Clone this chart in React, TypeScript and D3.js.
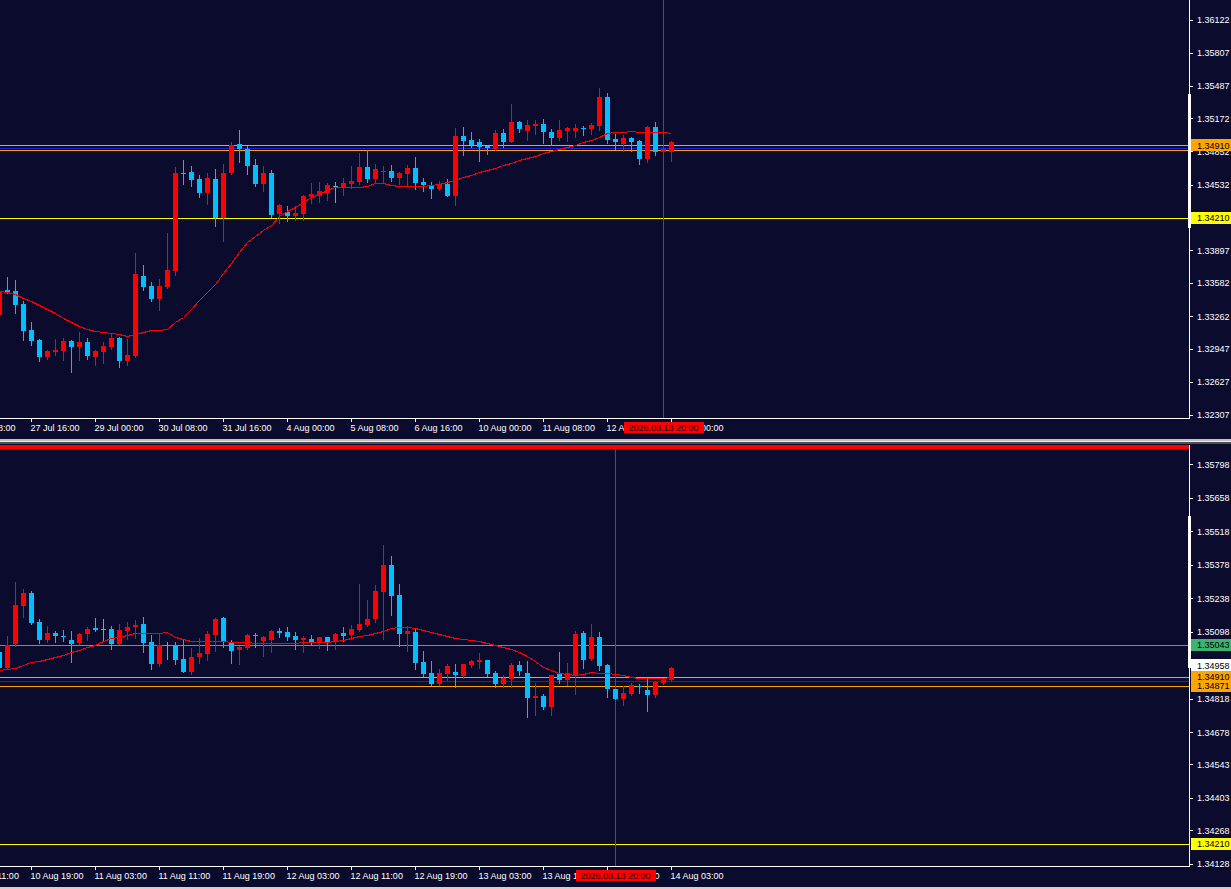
import * as d3 from "d3";

// H4 panel (top) – OHLC
const topOpen = [1.33273, 1.33514, 1.33505, 1.33379, 1.33128, 1.33031, 1.32867, 1.32915, 1.32925, 1.33022, 1.32964, 1.33012, 1.32867, 1.32915, 1.32964, 1.33051, 1.32829, 1.32877, 1.33649, 1.33553, 1.33427, 1.33543, 1.33698, 1.34644, 1.34654, 1.34586, 1.34451, 1.34586, 1.34210, 1.34644, 1.34924, 1.34876, 1.34721, 1.34538, 1.34644, 1.34248, 1.34268, 1.34229, 1.34248, 1.34412, 1.34422, 1.34451, 1.34519, 1.34509, 1.34538, 1.34557, 1.34702, 1.34586, 1.34654, 1.34663, 1.34596, 1.34634, 1.34692, 1.34557, 1.34519, 1.34490, 1.34538, 1.34422, 1.35002, 1.34963, 1.34944, 1.34905, 1.34876, 1.35031, 1.34944, 1.35137, 1.35050, 1.35098, 1.35117, 1.35040, 1.34982, 1.35050, 1.35050, 1.35079, 1.35069, 1.35098, 1.35378, 1.34973, 1.34924, 1.34982, 1.34953, 1.34779, 1.35088, 1.34847, 1.34847];
const topHigh = [1.33591, 1.33640, 1.33611, 1.33408, 1.33205, 1.33041, 1.32935, 1.33041, 1.33051, 1.33031, 1.33109, 1.33051, 1.32935, 1.33012, 1.33099, 1.33060, 1.33041, 1.33872, 1.33756, 1.33591, 1.33620, 1.34065, 1.34702, 1.34770, 1.34712, 1.34625, 1.34644, 1.34683, 1.34731, 1.34944, 1.35060, 1.34905, 1.34779, 1.34712, 1.34673, 1.34345, 1.34326, 1.34326, 1.34432, 1.34548, 1.34557, 1.34548, 1.34557, 1.34596, 1.34712, 1.34837, 1.34866, 1.34731, 1.34712, 1.34721, 1.34654, 1.34721, 1.34799, 1.34596, 1.34557, 1.34567, 1.34586, 1.35079, 1.35088, 1.35040, 1.34973, 1.34915, 1.35060, 1.35069, 1.35311, 1.35146, 1.35156, 1.35156, 1.35166, 1.35069, 1.35156, 1.35088, 1.35117, 1.35098, 1.35127, 1.35465, 1.35417, 1.35021, 1.35011, 1.34992, 1.34963, 1.35098, 1.35137, 1.34886, 1.34953];
const topLow = [1.33244, 1.33490, 1.33292, 1.33031, 1.32983, 1.32829, 1.32848, 1.32887, 1.32838, 1.32722, 1.32838, 1.32848, 1.32790, 1.32809, 1.32945, 1.32771, 1.32790, 1.32867, 1.33514, 1.33408, 1.33321, 1.33533, 1.33659, 1.34538, 1.34519, 1.34412, 1.34345, 1.34133, 1.33988, 1.34634, 1.34750, 1.34634, 1.34519, 1.34470, 1.34219, 1.34162, 1.34181, 1.34191, 1.34191, 1.34355, 1.34364, 1.34383, 1.34364, 1.34432, 1.34499, 1.34538, 1.34557, 1.34548, 1.34548, 1.34567, 1.34538, 1.34519, 1.34490, 1.34470, 1.34403, 1.34480, 1.34422, 1.34335, 1.34818, 1.34895, 1.34760, 1.34828, 1.34870, 1.34895, 1.34940, 1.35040, 1.34963, 1.35021, 1.34934, 1.34915, 1.34963, 1.34953, 1.34992, 1.35011, 1.35021, 1.35060, 1.34934, 1.34876, 1.34857, 1.34857, 1.34731, 1.34750, 1.34818, 1.34837, 1.34760];
const topClose = [1.33505, 1.33495, 1.33369, 1.33118, 1.33022, 1.32867, 1.32925, 1.32935, 1.33022, 1.32964, 1.33012, 1.32877, 1.32925, 1.32974, 1.33051, 1.32829, 1.32887, 1.33669, 1.33543, 1.33427, 1.33553, 1.33707, 1.34644, 1.34640, 1.34577, 1.34451, 1.34596, 1.34210, 1.34644, 1.34915, 1.34876, 1.34712, 1.34538, 1.34644, 1.34239, 1.34335, 1.34229, 1.34258, 1.34422, 1.34441, 1.34470, 1.34528, 1.34519, 1.34548, 1.34567, 1.34702, 1.34586, 1.34683, 1.34663, 1.34596, 1.34644, 1.34692, 1.34548, 1.34528, 1.34490, 1.34538, 1.34422, 1.35002, 1.34953, 1.34915, 1.34895, 1.34886, 1.35031, 1.34944, 1.35137, 1.35069, 1.35108, 1.35117, 1.35040, 1.34982, 1.35060, 1.35079, 1.35079, 1.35075, 1.35108, 1.35378, 1.34963, 1.34944, 1.34982, 1.34944, 1.34779, 1.35088, 1.34847, 1.34876, 1.34944];
const topMA = [1.33505, 1.33495, 1.33476, 1.33437, 1.33408, 1.33369, 1.33331, 1.33292, 1.33244, 1.33205, 1.33166, 1.33138, 1.33118, 1.33109, 1.33099, 1.33089, 1.33070, 1.33089, 1.33109, 1.33128, 1.33128, 1.33138, 1.33205, 1.33253, 1.33331, 1.33418, 1.33495, 1.33572, 1.33678, 1.33775, 1.33881, 1.33978, 1.34036, 1.34094, 1.34142, 1.34229, 1.34277, 1.34316, 1.34364, 1.34412, 1.34441, 1.34480, 1.34509, 1.34509, 1.34509, 1.34509, 1.34519, 1.34548, 1.34548, 1.34528, 1.34519, 1.34519, 1.34519, 1.34519, 1.34528, 1.34538, 1.34557, 1.34577, 1.34606, 1.34625, 1.34654, 1.34673, 1.34692, 1.34721, 1.34741, 1.34770, 1.34789, 1.34808, 1.34837, 1.34857, 1.34876, 1.34895, 1.34915, 1.34944, 1.34963, 1.34992, 1.35031, 1.35040, 1.35040, 1.35050, 1.35040, 1.35040, 1.35040, 1.35040, 1.35031];
const topTicks = [1.36122, 1.35807, 1.35487, 1.35172, 1.34852, 1.34532, 1.33897, 1.33582, 1.33262, 1.32947, 1.32627, 1.32307];
const topTimes = ["24 Jul 08:00", "27 Jul 16:00", "29 Jul 00:00", "30 Jul 08:00", "31 Jul 16:00", "4 Aug 00:00", "5 Aug 08:00", "6 Aug 16:00", "10 Aug 00:00", "11 Aug 08:00", "12 Aug 16:00", "14 Aug 00:00"];

// H1 panel (bottom)
const botOpen = [1.35012, 1.34945, 1.35046, 1.35205, 1.35259, 1.35138, 1.35063, 1.35092, 1.35080, 1.35063, 1.35050, 1.35088, 1.35113, 1.35109, 1.35109, 1.35046, 1.35100, 1.35117, 1.35130, 1.35054, 1.34962, 1.35042, 1.35042, 1.34983, 1.34929, 1.34991, 1.35004, 1.35084, 1.35155, 1.35054, 1.35021, 1.35029, 1.35084, 1.35059, 1.35063, 1.35100, 1.35096, 1.35080, 1.35063, 1.35067, 1.35054, 1.35075, 1.35054, 1.35092, 1.35084, 1.35105, 1.35125, 1.35151, 1.35263, 1.35376, 1.35251, 1.35088, 1.35096, 1.34970, 1.34924, 1.34878, 1.34920, 1.34929, 1.34912, 1.34958, 1.34970, 1.34979, 1.34924, 1.34878, 1.34899, 1.34958, 1.34924, 1.34820, 1.34828, 1.34782, 1.34920, 1.34895, 1.34916, 1.35092, 1.34983, 1.35075, 1.34958, 1.34857, 1.34816, 1.34836, 1.34870, 1.34853, 1.34832, 1.34882, 1.34895];
const botHigh = [1.35029, 1.35080, 1.35305, 1.35276, 1.35268, 1.35151, 1.35121, 1.35100, 1.35105, 1.35100, 1.35092, 1.35117, 1.35155, 1.35151, 1.35121, 1.35130, 1.35138, 1.35146, 1.35159, 1.35084, 1.35088, 1.35054, 1.35054, 1.35063, 1.35029, 1.35071, 1.35100, 1.35153, 1.35157, 1.35063, 1.35038, 1.35086, 1.35092, 1.35080, 1.35105, 1.35113, 1.35117, 1.35096, 1.35080, 1.35084, 1.35077, 1.35077, 1.35090, 1.35117, 1.35125, 1.35297, 1.35230, 1.35293, 1.35460, 1.35414, 1.35297, 1.35121, 1.35109, 1.35017, 1.34975, 1.34941, 1.34962, 1.34962, 1.34964, 1.34979, 1.35008, 1.34981, 1.34933, 1.34916, 1.34966, 1.34975, 1.34975, 1.34882, 1.34836, 1.34918, 1.35012, 1.34966, 1.35100, 1.35100, 1.35130, 1.35096, 1.34962, 1.34857, 1.34870, 1.34882, 1.34878, 1.34903, 1.34891, 1.34899, 1.34949];
const botLow = [1.34937, 1.34941, 1.35038, 1.35159, 1.35130, 1.35050, 1.35054, 1.35054, 1.35059, 1.34970, 1.35046, 1.35063, 1.35100, 1.35059, 1.35025, 1.35044, 1.35067, 1.35071, 1.35012, 1.34941, 1.34954, 1.34983, 1.34962, 1.34927, 1.34920, 1.34966, 1.34979, 1.35017, 1.35033, 1.34966, 1.34962, 1.35025, 1.35033, 1.34996, 1.35012, 1.35075, 1.35063, 1.35025, 1.35012, 1.35046, 1.35029, 1.35021, 1.35025, 1.35059, 1.35067, 1.35100, 1.35121, 1.35138, 1.35067, 1.35167, 1.35038, 1.35017, 1.34941, 1.34912, 1.34876, 1.34874, 1.34895, 1.34866, 1.34903, 1.34949, 1.34945, 1.34912, 1.34866, 1.34866, 1.34866, 1.34916, 1.34740, 1.34749, 1.34774, 1.34749, 1.34882, 1.34874, 1.34836, 1.34945, 1.34979, 1.34937, 1.34824, 1.34816, 1.34791, 1.34832, 1.34841, 1.34765, 1.34824, 1.34878, 1.34893];
const botClose = [1.34945, 1.35042, 1.35209, 1.35259, 1.35134, 1.35063, 1.35092, 1.35080, 1.35078, 1.35046, 1.35088, 1.35109, 1.35105, 1.35109, 1.35046, 1.35105, 1.35117, 1.35125, 1.35050, 1.34962, 1.35042, 1.35042, 1.34979, 1.34929, 1.34991, 1.35008, 1.35088, 1.35151, 1.35054, 1.35017, 1.35033, 1.35084, 1.35082, 1.35075, 1.35100, 1.35092, 1.35075, 1.35063, 1.35071, 1.35054, 1.35075, 1.35054, 1.35088, 1.35080, 1.35109, 1.35130, 1.35151, 1.35268, 1.35376, 1.35247, 1.35088, 1.35100, 1.34966, 1.34920, 1.34878, 1.34924, 1.34954, 1.34916, 1.34962, 1.34975, 1.34979, 1.34920, 1.34878, 1.34903, 1.34958, 1.34933, 1.34820, 1.34828, 1.34782, 1.34916, 1.34895, 1.34924, 1.35088, 1.34979, 1.35075, 1.34954, 1.34857, 1.34816, 1.34841, 1.34874, 1.34866, 1.34832, 1.34887, 1.34895, 1.34945];
const botMA = [1.34937, 1.34941, 1.34945, 1.34958, 1.34970, 1.34975, 1.34983, 1.34991, 1.35000, 1.35012, 1.35021, 1.35033, 1.35042, 1.35059, 1.35071, 1.35075, 1.35084, 1.35092, 1.35092, 1.35092, 1.35092, 1.35096, 1.35075, 1.35067, 1.35059, 1.35059, 1.35059, 1.35059, 1.35059, 1.35054, 1.35054, 1.35054, 1.35050, 1.35050, 1.35050, 1.35050, 1.35050, 1.35050, 1.35054, 1.35054, 1.35054, 1.35054, 1.35059, 1.35063, 1.35071, 1.35080, 1.35084, 1.35092, 1.35100, 1.35113, 1.35117, 1.35117, 1.35113, 1.35105, 1.35096, 1.35088, 1.35080, 1.35071, 1.35067, 1.35063, 1.35059, 1.35050, 1.35042, 1.35033, 1.35025, 1.35012, 1.34996, 1.34975, 1.34949, 1.34937, 1.34924, 1.34920, 1.34916, 1.34920, 1.34929, 1.34924, 1.34924, 1.34920, 1.34916, 1.34908, 1.34903, 1.34903, 1.34903, 1.34903, 1.34908];
const botTicks = [1.35798, 1.35658, 1.35518, 1.35378, 1.35238, 1.35098, 1.34818, 1.34678, 1.34543, 1.34403, 1.34268, 1.34128];
const botTimes = ["10 Aug 11:00", "10 Aug 19:00", "11 Aug 03:00", "11 Aug 11:00", "11 Aug 19:00", "12 Aug 03:00", "12 Aug 11:00", "12 Aug 19:00", "13 Aug 03:00", "13 Aug 11:00", "13 Aug 19:00", "14 Aug 03:00"];

const crossLabel = "2026.08.13 20:00";

const BG = "#0b0b2d";
const BULL = "#ff0000";
const BEAR = "#00bfff";
const DOJI = "#3cd07a";
const ORANGE = "#ffa500";
const YELLOW = "#ffff00";
const GREEN = "#3cb371";
const BLUE = "#1e1ee6";
const FONT = "Tahoma, 'Liberation Sans', Arial, sans-serif";
const AXIS_X = 1189;

const W = 1231;
const H = 889;

const x = d3.scaleLinear().domain([0, 84]).range([-1, 671]);

type Panel = {
  id: string;
  top: number;
  bottom: number;
  y: d3.ScaleLinear<number, number>;
  open: number[];
  high: number[];
  low: number[];
  close: number[];
  ma: number[];
  ticks: number[];
  times: string[];
  lines: { v: number; color: string }[];
  labels: { v: number; bg: string }[];
  bar: [number, number];
  crossIdx: number;
};

const panels: Panel[] = [
  {
    id: "top",
    top: 0,
    bottom: 418,
    y: d3.scaleLinear().domain([1.32278, 1.36315]).range([418, 0]),
    open: topOpen,
    high: topHigh,
    low: topLow,
    close: topClose,
    ma: topMA,
    ticks: topTicks,
    times: topTimes,
    lines: [
      { v: 1.3421, color: YELLOW },
      { v: 1.3491, color: ORANGE },
      { v: 1.3489, color: BLUE },
      { v: 1.34871, color: ORANGE },
    ],
    labels: [
      { v: 1.3491, bg: ORANGE },
      { v: 1.3421, bg: YELLOW },
    ],
    bar: [1.35407, 1.34113],
    crossIdx: 83,
  },
  {
    id: "bot",
    top: 449,
    bottom: 866,
    y: d3.scaleLinear().domain([1.34118, 1.35861]).range([866, 449]),
    open: botOpen,
    high: botHigh,
    low: botLow,
    close: botClose,
    ma: botMA,
    ticks: botTicks,
    times: botTimes,
    lines: [
      { v: 1.35043, color: GREEN },
      { v: 1.3491, color: ORANGE },
      { v: 1.34893, color: BLUE },
      { v: 1.34871, color: ORANGE },
      { v: 1.3421, color: YELLOW },
    ],
    labels: [
      { v: 1.35043, bg: GREEN },
      { v: 1.34958, bg: "#ffffff" },
      { v: 1.3491, bg: ORANGE },
      { v: 1.34871, bg: ORANGE },
      { v: 1.3421, bg: YELLOW },
    ],
    bar: [1.35581, 1.34945],
    crossIdx: 77,
  },
];

function ChartPanel({ p }: { p: Panel }) {
  const { y } = p;
  const line = d3
    .line<number>()
    .x((_, i) => x(i) + 0.5)
    .y((v) => Math.round(y(v)) + 0.5);
  const crossX = Math.round(x(p.crossIdx)) + 0.5;
  const tickIdx = p.times.map((_, k) => -4 + 8 * k);

  return (
    <g>
      <defs>
        <clipPath id={`clip-${p.id}`}>
          <rect x={0} y={p.top} width={AXIS_X} height={p.bottom - p.top} />
        </clipPath>
      </defs>
      <g clipPath={`url(#clip-${p.id})`} shapeRendering="crispEdges">
        {p.lines.map((l, i) => (
          <line
            key={i}
            x1={0}
            x2={AXIS_X}
            y1={Math.round(y(l.v)) + 0.5}
            y2={Math.round(y(l.v)) + 0.5}
            stroke={l.color}
            strokeWidth={1}
          />
        ))}
        <line x1={crossX} x2={crossX} y1={p.top} y2={p.bottom} stroke="#c81e1e" strokeWidth={1} />
        {p.open.map((o, i) => {
          const c = p.close[i];
          const cx = Math.round(x(i)) + 0.5;
          const color = c > o ? BULL : c < o ? BEAR : DOJI;
          const yo = Math.round(y(o));
          const yc = Math.round(y(c));
          const t = Math.min(yo, yc);
          const h = Math.max(1, Math.abs(yo - yc));
          return (
            <g key={i}>
              <line x1={cx} x2={cx} y1={Math.round(y(p.high[i]))} y2={Math.round(y(p.low[i])) + 1} stroke={color} />
              <rect x={cx - 2.5} y={t} width={5} height={h} fill={color} />
            </g>
          );
        })}
        <path d={line(p.ma) || ""} fill="none" stroke="#ff0000" strokeWidth={1} />
      </g>

      {/* price axis */}
      <g shapeRendering="crispEdges">
        <line x1={AXIS_X + 0.5} x2={AXIS_X + 0.5} y1={p.top - (p.id === "bot" ? 4 : 0)} y2={p.bottom + 0.5} stroke="#fff" />
        <line x1={0} x2={AXIS_X + 1} y1={p.bottom + 0.5} y2={p.bottom + 0.5} stroke="#fff" />
        <rect x={AXIS_X - 1} y={y(p.bar[0])} width={3} height={y(p.bar[1]) - y(p.bar[0])} fill="#fff" />
      </g>
      {p.ticks.map((t) => (
        <g key={t}>
          <line x1={AXIS_X} x2={AXIS_X + 4} y1={Math.round(y(t)) + 0.5} y2={Math.round(y(t)) + 0.5} stroke="#fff" shapeRendering="crispEdges" />
          <text x={1197} y={y(t) + 3.5} fill="#fff" fontSize={9} fontFamily={FONT}>
            {t.toFixed(5)}
          </text>
        </g>
      ))}
      {p.labels.map((l) => (
        <g key={l.v}>
          <rect x={AXIS_X + 2} y={y(l.v) - 6} width={W - AXIS_X - 2} height={12} fill={l.bg} shapeRendering="crispEdges" />
          <text x={1197} y={y(l.v) + 3.5} fill="#000" fontSize={9} fontFamily={FONT}>
            {l.v.toFixed(5)}
          </text>
        </g>
      ))}

      {/* time axis */}
      {tickIdx.map((ti, k) => {
        const tx = Math.round(x(ti)) + 0.5;
        return (
          <g key={k}>
            <line x1={tx} x2={tx} y1={p.bottom} y2={p.bottom + 4} stroke="#fff" shapeRendering="crispEdges" />
            <text x={tx - 1} y={p.bottom + 13} fill="#fff" fontSize={9} fontFamily={FONT}>
              {p.times[k]}
            </text>
          </g>
        );
      })}
      <rect x={crossX - 40} y={p.bottom + 4} width={80} height={11} fill="#ff0000" shapeRendering="crispEdges" />
      <text x={crossX} y={p.bottom + 13} fill="#200000" fontSize={9} fontFamily={FONT} textAnchor="middle">
        {crossLabel}
      </text>
    </g>
  );
}

export default function App() {
  return (
    <div style={{ position: "absolute", left: 0, top: 0, width: W, height: H, background: BG }}>
      <svg width={W} height={H} viewBox={`0 0 ${W} ${H}`} style={{ display: "block" }}>
        <rect x={0} y={0} width={W} height={H} fill={BG} />
        {/* window splitter between the two charts */}
        <g shapeRendering="crispEdges">
          <rect x={0} y={439} width={W} height={2} fill="#c0c0c0" />
          <rect x={0} y={441} width={W} height={1} fill="#e8e8e8" />
          <rect x={0} y={442} width={W} height={2} fill="#505050" />
          <rect x={0} y={445} width={AXIS_X} height={4} fill="#ff0000" />
          <rect x={0} y={887} width={W} height={2} fill="#d4d0c8" />
        </g>
        {panels.map((p) => (
          <ChartPanel key={p.id} p={p} />
        ))}
      </svg>
    </div>
  );
}
